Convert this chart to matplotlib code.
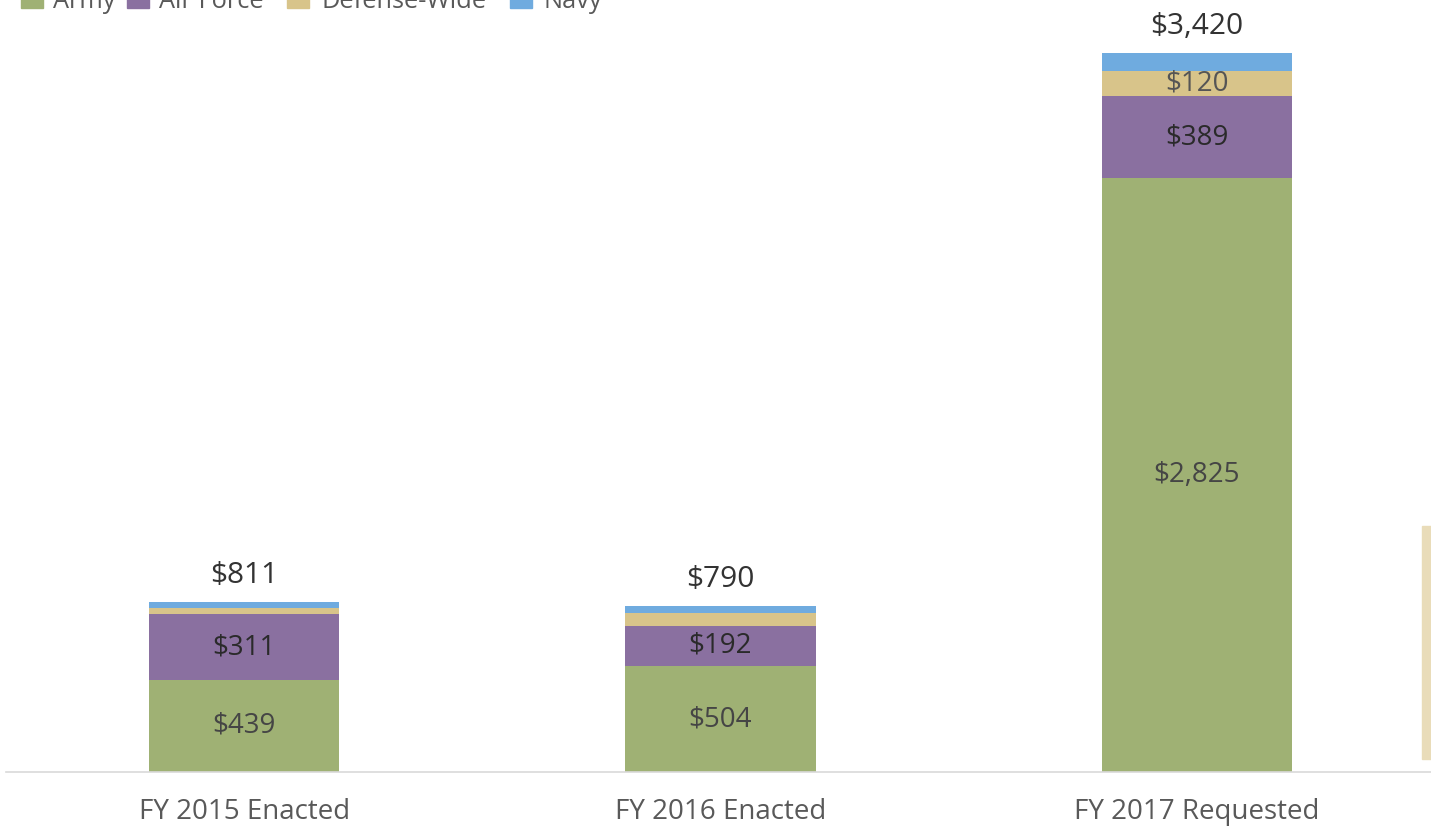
import matplotlib

matplotlib.use("Agg")
import matplotlib.pyplot as plt
from matplotlib.patches import Rectangle
import numpy as np

plt.rcParams["font.family"] = ["Open Sans", "DejaVu Sans"]

years = ["FY 2015 Enacted", "FY 2016 Enacted", "FY 2017 Requested"]
army = [439, 504, 2825]
air_force = [311, 192, 389]
defense_wide = [32, 62, 120]
navy = [29, 32, 86]
totals = [811, 790, 3420]

series = [
    ("Army", army, "#9fb174", "#454545"),
    ("Air Force", air_force, "#8a70a0", "#2a2a2a"),
    ("Defense-Wide", defense_wide, "#d8c48a", "#555555"),
    ("Navy", navy, "#6fabdf", "#404040"),
]
LABEL_MIN = 100

W, H = 1431, 836
fig = plt.figure(figsize=(W / 100, H / 100), dpi=100)
# axes: x from 6 to 1435 px, baseline at y=772 px, 719 px per 3420
ax = fig.add_axes([6 / W, 1 - 772 / H, 1429 / W, 772 / H])
ymax = 772 * 3420 / 719

x = np.arange(len(years))
bottom = np.zeros(len(years))
for name, vals, color, tcol in series:
    vals = np.array(vals, dtype=float)
    ax.bar(x, vals, 0.4, bottom=bottom, color=color, label=name, linewidth=0)
    for xi, b, v in zip(x, bottom, vals):
        if v >= LABEL_MIN:
            ax.text(xi, b + v / 2, f"${v:,.0f}", ha="center", va="center",
                    fontsize=20, color=tcol)
    bottom += vals

for xi, t in zip(x, totals):
    ax.annotate(f"${t:,}", (xi, bottom[xi]), xytext=(0, 19),
                textcoords="offset points", ha="center", va="center",
                fontsize=21.5, color="#333333")

ax.set_xlim(-0.5, 2.5)
ax.set_ylim(0, ymax)
ax.set_yticks([])
ax.set_xticks(x)
ax.set_xticklabels(years, fontsize=20, color="#595959")
ax.tick_params(axis="x", length=0, pad=19)
for s in ["top", "right", "left"]:
    ax.spines[s].set_visible(False)
ax.spines["bottom"].set_color("#d9d9d9")
ax.spines["bottom"].set_linewidth(1.2)

# legend, clipped at the top edge as in the source
leg_items = [(21, 53), (127, 159), (287, 321), (510, 543)]
for (px, tx), (name, _, color, _) in zip(leg_items, series):
    fig.patches.append(Rectangle((px / W, 1 - 8 / H), 22 / W, 22 / H,
                                 transform=fig.transFigure, color=color))
    fig.text(tx / W, 1 - 8 / H, name, fontsize=18.3, color="#595959",
             ha="left", va="baseline")

# cropped shape at the right edge
fig.patches.append(Rectangle((1422 / W, 1 - 759 / H), 9 / W, 233 / H,
                             transform=fig.transFigure, color="#e9dcb9"))

fig.savefig("out.png", dpi=100)
